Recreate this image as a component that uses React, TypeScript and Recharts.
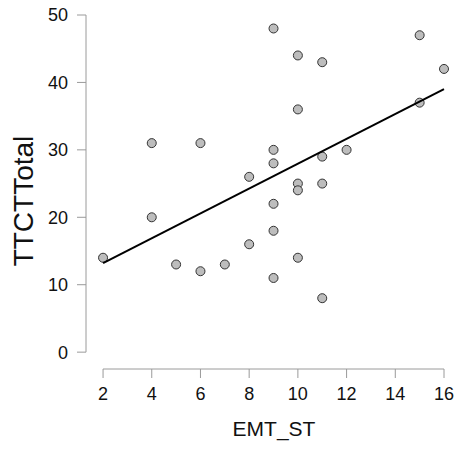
import React from 'react';
import { ScatterChart, Scatter, XAxis, YAxis, ReferenceLine } from 'recharts';

// EMT_ST vs TTCTTotal, one entry per participant
const emtSt = [2, 4, 4, 5, 6, 6, 7, 8, 8, 9, 9, 9, 9, 9, 9, 10, 10, 10, 10, 10, 11, 11, 11, 11, 12, 15, 15, 16];
const ttctTotal = [14, 31, 20, 13, 31, 12, 13, 26, 16, 48, 30, 28, 22, 18, 11, 44, 36, 25, 24, 14, 43, 29, 25, 8, 30, 47, 37, 42];

// regression line end points
const fitX = [2, 16];
const fitY = [13.2, 39];

const xTicks = [2, 4, 6, 8, 10, 12, 14, 16];
const yTicks = [0, 10, 20, 30, 40, 50];

// axes sit a bit away from the data range (offset axis style)
const xAxisOffset = 1.3;
const yAxisOffset = -2.5;

const points = emtSt.map((x, i) => ({ x, y: ttctTotal[i] }));
const fit = fitX.map((x, i) => ({ x, y: fitY[i] }));

const axisGray = '#9a9a9a';
const font = '"Liberation Sans", Arial, sans-serif';

const Dot = (props: any) => (
  <circle cx={props.cx} cy={props.cy} r={4.5} fill="#bdbdbd" stroke="#333" strokeWidth={1} />
);

export default function App() {
  return (
    <div style={{ position: 'absolute', left: 0, top: 0 }}>
      <ScatterChart
        width={469}
        height={450}
        margin={{ top: 15, right: 25, bottom: 0, left: 0 }}
        style={{ fontFamily: font }}
      >
        <XAxis
          type="number"
          dataKey="x"
          domain={[xAxisOffset, 16]}
          ticks={xTicks}
          height={81}
          axisLine={false}
          tickSize={9}
          tickMargin={9}
          tickLine={{ stroke: axisGray }}
          tick={{ fill: '#111', fontSize: 18 }}
          label={{
            content: ({ viewBox }: any) => (
              <text x={viewBox.x + viewBox.width / 2 + 9} y={viewBox.y + 67} textAnchor="middle" fontSize={21} fill="#111">
                EMT_ST
              </text>
            ),
          }}
        />
        <YAxis
          type="number"
          dataKey="y"
          domain={[yAxisOffset, 50]}
          ticks={yTicks}
          width={86}
          axisLine={false}
          tickSize={9}
          tickMargin={9}
          tickLine={{ stroke: axisGray }}
          tick={{ fill: '#111', fontSize: 18 }}
          label={{
            content: ({ viewBox }: any) => {
              const cy = viewBox.y + viewBox.height / 2 + 9;
              return (
                <text x={33} y={cy} transform={`rotate(-90, 33, ${cy})`} textAnchor="middle" fontSize={28} fill="#111">
                  TTCTTotal
                </text>
              );
            },
          }}
        />
        <ReferenceLine segment={[{ x: xAxisOffset, y: 0 }, { x: xAxisOffset, y: 50 }]} stroke={axisGray} strokeWidth={1} />
        <ReferenceLine segment={[{ x: 2, y: yAxisOffset }, { x: 16, y: yAxisOffset }]} stroke={axisGray} strokeWidth={1} />
        <Scatter data={points} shape={Dot} isAnimationActive={false} />
        <Scatter data={fit} line={{ stroke: '#000', strokeWidth: 2 }} shape={() => <g />} isAnimationActive={false} />
      </ScatterChart>
    </div>
  );
}
